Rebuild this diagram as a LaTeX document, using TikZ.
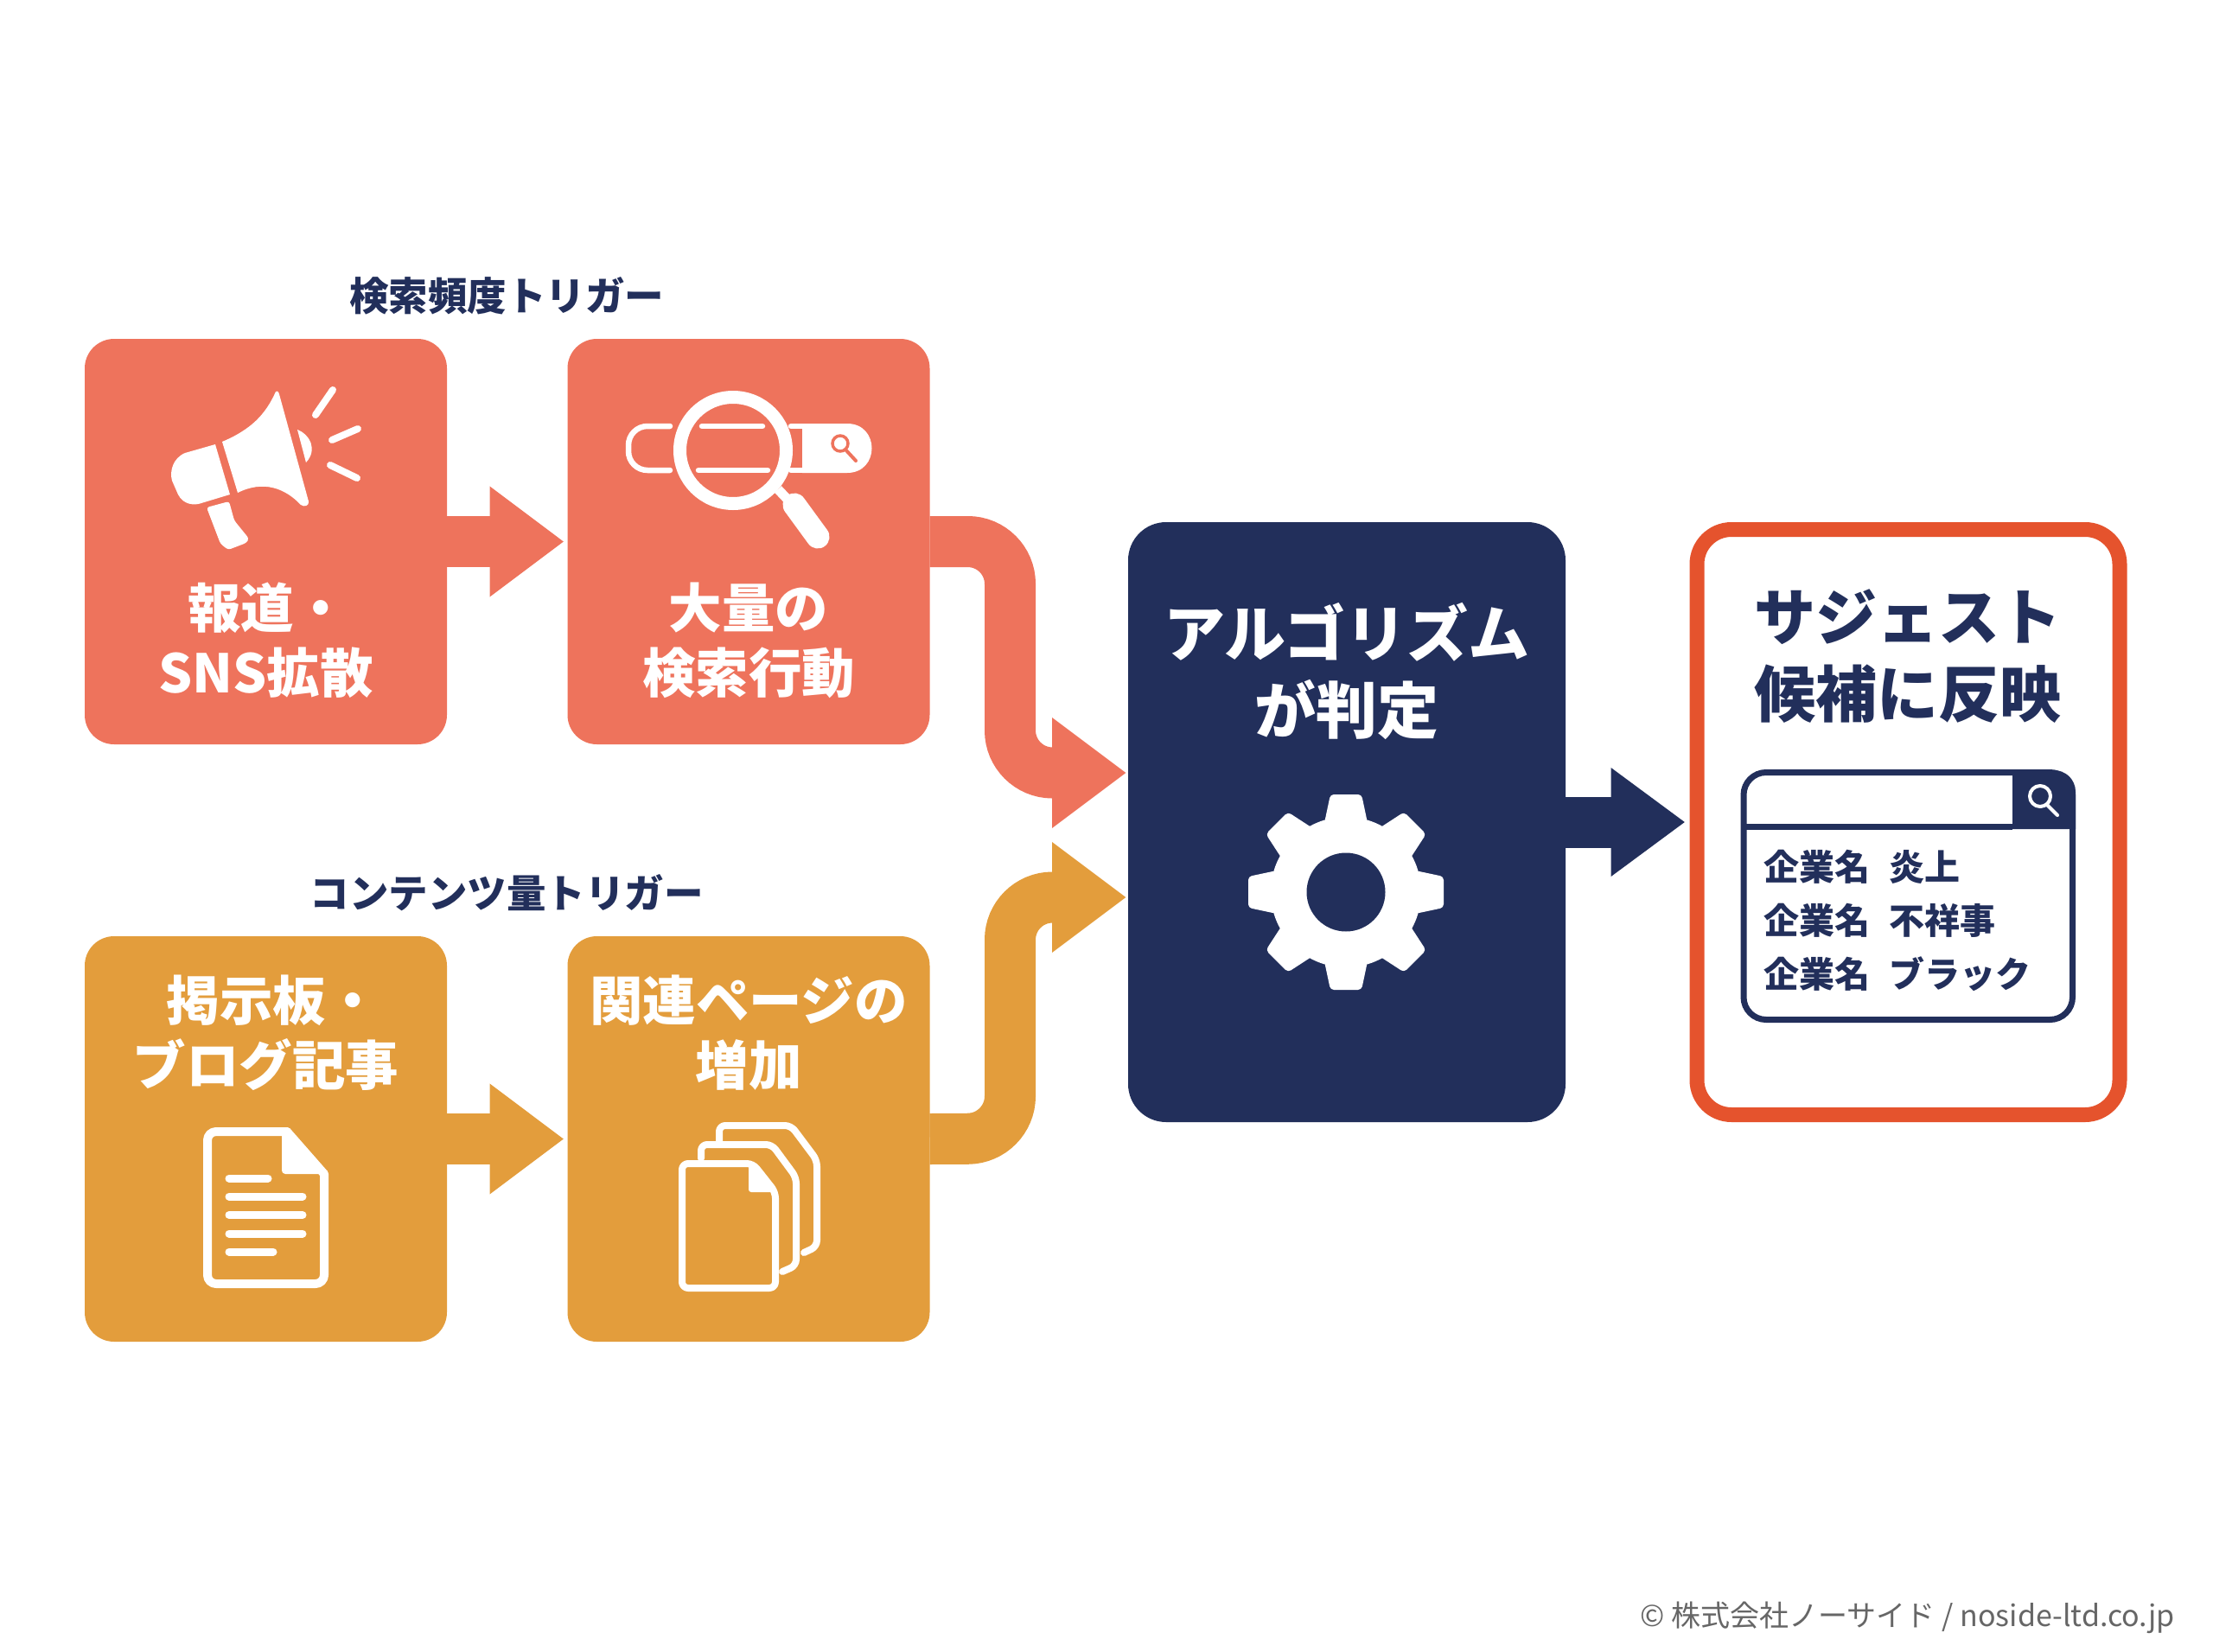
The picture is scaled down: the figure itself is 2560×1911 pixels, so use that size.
\documentclass[tikz,border=0pt]{standalone}
\usepackage{fontspec}
\usepackage{xcolor}
\usepackage{tikz}
\usetikzlibrary{arrows.meta, calc, positioning}
\setmainfont{Noto Sans CJK JP}

\definecolor{salmon}{HTML}{EE735C}
\definecolor{amber}{HTML}{E39D3C}
\definecolor{navy}{HTML}{222F5B}
\definecolor{flame}{HTML}{E5532D}
\definecolor{credit}{HTML}{666666}

\tikzset{
	box/.style={rounded corners=34pt, minimum width=419pt, minimum height=469pt, inner sep=0pt, outer sep=0pt},
	flow/.style={line width=59pt, -{Triangle[length=86pt, width=122pt]}},
	boxtext/.style={white, align=center, inner sep=0pt, font=\fontsize{61.5}{75}\selectfont\bfseries},
	bigtext/.style={align=center, inner sep=0pt, font=\fontsize{71}{89}\selectfont\bfseries},
	title/.style={navy, inner sep=0pt, font=\fontsize{45.5}{50}\selectfont\bfseries},
	hit/.style={navy, anchor=west, inner sep=0pt, font=\fontsize{41}{46}\selectfont\bfseries},
	icon/.style={white, line cap=round, line join=round},
}

\begin{document}
\begin{tikzpicture}[x=1pt, y=-1pt]

	\useasboundingbox (0,0) rectangle (2560,1911);

	% Boxes
	\node[box, fill=salmon] (report) at (307.5,626.5) {};
	\node[box, fill=salmon, right=139.5pt of report] (search) {};
	\node[box, fill=amber, below=222pt of report] (board) {};
	\node[box, fill=amber, right=139.5pt of board] (pages) {};
	\node[rounded corners=44pt, fill=navy, minimum width=506pt, minimum height=694pt, inner sep=0pt, outer sep=0pt] (algo) at (1558,951) {};
	\node[rounded corners=40pt, draw=flame, line width=17pt, fill=white, minimum width=489pt, minimum height=677pt, inner sep=0pt, outer sep=8.5pt] (result) at (2207.5,951) {};

	% Titles
	\node[title] (freqtitle) at (586,342) {検索頻度トリガー};
	\node[title] (voltitle) at (586,1033) {コンテンツ量トリガー};

	% Arrows
	\coordinate (redin) at ([yshift=57pt]algo.west);
	\coordinate (amberin) at ([yshift=-87pt]algo.west);
	\draw[flow, salmon, shorten >=4pt] (report) -- (search);
	\draw[flow, amber, shorten >=4pt] (board) -- (pages);
	\draw[flow, salmon, shorten >=2pt, rounded corners=49pt] (search.east) -- (1168.5,626.5) -- (1168.5,894) -- (redin);
	\draw[flow, amber, shorten >=2pt, rounded corners=49pt] (pages.east) -- (1168.5,1317) -- (1168.5,1038) -- (amberin);
	\draw[flow, navy, shorten >=5pt, -{Triangle[length=86pt, width=120pt]}] (algo) -- (result);

	% Box texts
	\node[boxtext] (reporttext) at (307.5,741) {\hspace*{4pt}報道・\\SNS拡散};
	\node[boxtext] (searchtext) at (866,741) {大量の\\検索行動};
	\node[boxtext] (boardtext) at (307.5,1195) {\hspace*{16pt}掲示板・\\ブログ記事};
	\node[boxtext] (pagestext) at (866,1195) {関連ページの\\増加};
	\node[bigtext, white] (algotext) at (1558,776) {アルゴリズム\\が判定};
	\node[bigtext, navy] (resulttext) at (2207,759) {サジェスト\\候補に反映};

	% Megaphone
	\fill[icon] (249,514) -- (214,524) .. controls (200,530) and (196,545) .. (199,556) -- (206,572) .. controls (212,584) and (225,585) .. (233,582) -- (266,572) -- cycle;
	\fill[icon] (319,453) .. controls (307,480) and (290,497) .. (257,511) -- (275,570) .. controls (305,555) and (330,565) .. (348,584) .. controls (352,587) and (358,585) .. (357,580) -- (323,456) .. controls (322,452) and (320,452) .. (319,453) -- cycle;
	\fill[icon] (344,497) .. controls (358,502) and (368,520) .. (354,535) -- cycle;
	\fill[icon, rounded corners=3pt] (239,587) -- (265,580) -- (271,602) -- (288,623) -- (285,628) -- (264,636) -- (255,629) -- cycle;
	\draw[icon, line width=8pt] (365,480) -- (385,451);
	\draw[icon, line width=8pt] (384,509) -- (414,496);
	\draw[icon, line width=8pt] (382,538) -- (413,553);

	% Search bar and lens
	\draw[icon, line width=6.5pt, rounded corners=22pt] (775,493) -- (727,493) -- (727,544) -- (775,544);
	\draw[icon, line width=6.5pt] (812,493) -- (882,493);
	\draw[icon, line width=6.5pt] (808,544) -- (888,544);
	\draw[icon, line width=6.5pt] (915,493) -- (935,493);
	\draw[icon, line width=6.5pt] (915,544) -- (935,544);
	\fill[icon] (928,490) -- (980,490) .. controls (1018,490) and (1018,547) .. (980,547) -- (928,547) -- cycle;
	\draw[salmon, line width=3.5pt] (972,513) circle[radius=9pt];
	\draw[salmon, line width=4pt, line cap=round] (978,520) -- (990,533);
	\draw[icon, line width=15pt] (848,521) circle[radius=61.5pt];
	\draw[icon, line width=11pt, line cap=butt] (900,566) -- (918,585);
	\draw[icon, line width=27pt] (919,584) -- (946,621);

	% Document
	\draw[icon, line width=10pt, rounded corners=10pt] (332,1309) -- (240,1309) -- (240,1485) -- (375,1485) -- (375,1358);
	\draw[icon, line width=10pt] (332,1309) -- (375,1358);
	\fill[icon, rounded corners=4pt] (326,1309) -- (326,1358) -- (375,1358) -- (340,1312) -- cycle;
	\foreach \liney/\lineend in {1363/310, 1384/350, 1405.5/350, 1427/350, 1448/316}
		\draw[icon, line width=9pt] (265,\liney) -- (\lineend,\liney);

	% Pages
	\draw[icon, line width=8pt, rounded corners=7pt] (832,1320) -- (832,1302) -- (915,1302) -- (945,1342) -- (945,1442) -- (930,1449);
	\draw[icon, line width=8pt, rounded corners=7pt] (811,1340) -- (811,1324) -- (893,1324) -- (921,1362) -- (921,1464) -- (905,1471);
	\draw[icon, line width=8pt, rounded corners=7pt] (871,1346) -- (789,1346) -- (789,1490) -- (897,1490) -- (897,1379) -- cycle;
	\fill[icon, rounded corners=3pt] (866,1346) -- (866,1379) -- (897,1379) -- (873,1346) -- cycle;

	% Gear
	\begin{scope}[shift={(1557,1032)}]
		\fill[white] (0,0) circle[radius=87pt];
		\foreach \ang in {0,45,...,315}
			\fill[white, rotate=\ang, rounded corners=4pt] (-25,-80) -- (-18,-113) -- (18,-113) -- (25,-80) -- cycle;
		\fill[navy] (0,0) circle[radius=45.5pt];
	\end{scope}

	% Suggest box
	\fill[navy] (2328,893) [rounded corners=26pt] -- (2401,890) [sharp corners] -- (2401,959) -- (2328,959) -- cycle;
	\draw[navy, line width=7pt, rounded corners=26pt] (2017,893.5) rectangle (2397.5,1179.5);
	\draw[navy, line width=7pt] (2017,956) -- (2328,956);
	\draw[icon, line width=4pt] (2360,921) circle[radius=12pt];
	\draw[icon, line width=4pt] (2368,931) -- (2380,943);
	\node[hit] (hitone) at (2040,1003) {企業名\hspace{0.54em}炎上};
	\node[hit] (hittwo) at (2040,1065) {企業名\hspace{0.54em}不祥事};
	\node[hit] (hitthree) at (2040,1127) {企業名\hspace{0.54em}ブラック};

	% Credit
	\node[credit, anchor=east, inner sep=0pt, font=\fontsize{34}{38}\selectfont] (creditline) at (2516,1871) {© 株式会社ノーサイド / noside-ltd.co.jp};

\end{tikzpicture}
\end{document}
